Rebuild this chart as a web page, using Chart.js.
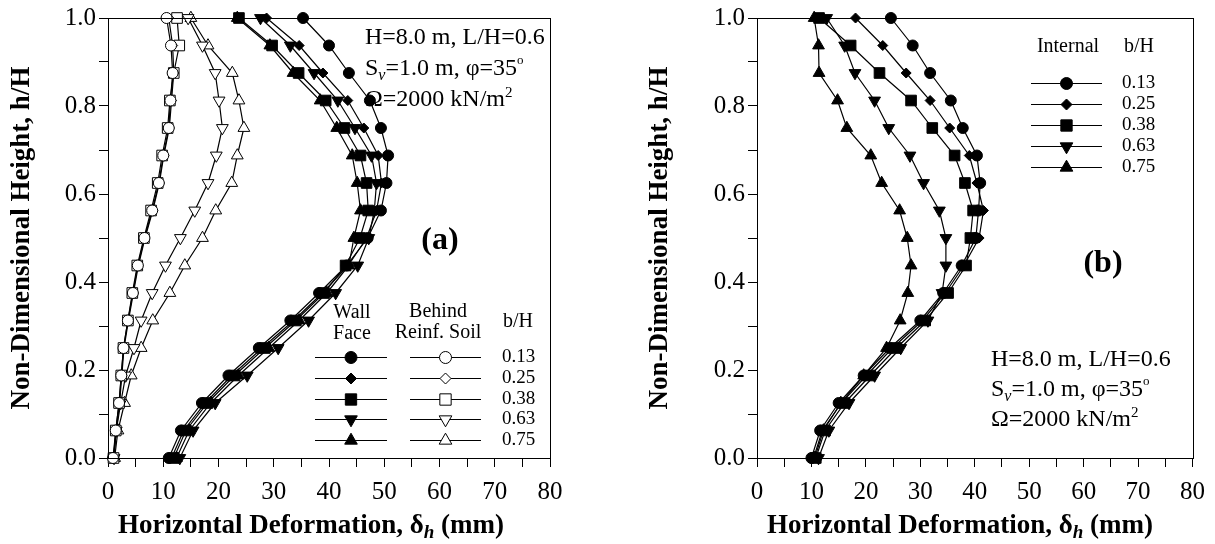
<!DOCTYPE html>
<html>
<head>
<meta charset="utf-8">
<script src="https://cdn.jsdelivr.net/npm/chart.js@4.4.1/dist/chart.umd.min.js"></script>
<style>
body{margin:0;background:#fff}
#wrap{position:relative;width:1215px;height:544px;overflow:hidden}
.box{position:absolute;top:0;height:544px}
</style>
</head>
<body>
<div id="wrap">
<div class="box" style="left:0;width:600px"><canvas id="chartA" width="600" height="544"></canvas></div>
<div class="box" style="left:600px;width:615px"><canvas id="chartB" width="615" height="544"></canvas></div>
</div>
<script>
// h/H levels, bottom to top
const hLevels = [0, 0.0625, 0.125, 0.1875, 0.25, 0.3125, 0.375, 0.4375, 0.5, 0.5625, 0.625, 0.6875, 0.75, 0.8125, 0.875, 0.9375, 1.0]
const bhLabels = ['0.13', '0.25', '0.38', '0.63', '0.75']

// (a) wall face, deformation in mm
const face013 = [11.0, 13.2, 17.0, 21.8, 27.3, 33.0, 38.2, 43.2, 47.0, 49.4, 50.4, 50.7, 49.4, 47.4, 43.6, 40.0, 35.3]
const face025 = [11.5, 13.7, 17.6, 22.4, 27.9, 33.6, 38.8, 43.5, 46.8, 48.6, 49.5, 48.9, 46.3, 43.4, 38.9, 34.6, 28.7]
const face038 = [11.9, 14.1, 18.0, 22.9, 28.4, 34.0, 39.1, 43.0, 45.6, 47.1, 46.8, 45.7, 42.8, 39.4, 34.5, 29.7, 23.7]
const face063 = [13.0, 15.4, 19.4, 25.2, 30.8, 36.3, 41.2, 45.2, 47.2, 48.2, 48.6, 47.7, 44.7, 41.6, 37.3, 33.0, 27.6]
const face075 = [12.4, 14.7, 18.6, 23.6, 29.1, 34.6, 39.6, 43.6, 44.5, 45.7, 45.1, 44.2, 41.4, 38.4, 33.5, 29.3, 23.4]

// (a) behind reinforced soil
const back013 = [0.9, 1.4, 2.0, 2.4, 2.8, 3.6, 4.5, 5.4, 6.6, 8.0, 9.2, 10.0, 11.0, 11.3, 11.7, 11.4, 10.6]
const back025 = [1.0, 1.5, 2.1, 2.5, 2.9, 3.7, 4.6, 5.5, 6.7, 8.1, 9.3, 10.1, 11.1, 11.5, 11.9, 11.7, 11.0]
const back038 = [1.0, 1.4, 2.0, 2.4, 2.8, 3.6, 4.4, 5.3, 6.5, 7.8, 9.0, 9.8, 10.8, 11.2, 11.9, 12.9, 12.5]
const back063 = [1.1, 1.5, 2.3, 3.2, 4.7, 6.0, 8.0, 10.4, 13.1, 15.7, 18.1, 19.6, 20.7, 20.1, 19.4, 17.1, 14.5]
const back075 = [1.2, 1.8, 3.0, 4.2, 6.0, 8.1, 11.2, 13.9, 17.1, 19.5, 22.4, 23.4, 24.6, 23.7, 22.5, 18.1, 15.0]

// (b) internal
const int013 = [10.0, 11.6, 15.0, 19.6, 24.4, 30.0, 34.2, 37.6, 40.2, 40.7, 41.0, 40.4, 37.8, 35.6, 31.8, 28.6, 24.6]
const int025 = [10.4, 12.0, 15.5, 20.1, 24.9, 30.4, 34.6, 38.0, 40.8, 41.6, 40.4, 39.0, 35.4, 31.8, 27.4, 23.1, 18.1]
const int038 = [10.8, 12.5, 16.1, 20.8, 25.6, 30.9, 35.1, 38.4, 39.2, 39.7, 38.2, 36.3, 32.2, 28.3, 22.5, 17.2, 11.4]
const int063 = [11.3, 13.2, 16.9, 21.6, 26.4, 31.4, 34.0, 34.7, 34.7, 33.5, 30.6, 28.1, 24.2, 21.6, 18.0, 16.1, 12.8]
const int075 = [10.6, 12.2, 15.4, 19.6, 23.8, 26.3, 27.7, 28.3, 27.6, 26.2, 22.9, 20.9, 16.5, 14.8, 11.4, 11.3, 10.5]

const serif = "'Liberation Serif', 'Times New Roman', serif"
function fnt(size, style){ return (style ? style + ' ' : '') + size + 'px ' + serif }

const markers = [
	{style:'circle', r:5.5, rot:0},
	{style:'rectRot', r:5, rot:0},
	{style:'rect', r:7.5, rot:0},
	{style:'triangle', r:6.8, rot:180},
	{style:'triangle', r:6.8, rot:0}
]

function pts(xs){ return xs.map((x, i) => ({x:x, y:hLevels[i]})) }

function ds(label, xs, i, filled){
	return {
		label: label,
		data: pts(xs),
		showLine: true,
		borderColor: '#000',
		borderWidth: 1.2,
		pointStyle: markers[i].style,
		pointRadius: markers[i].r,
		pointRotation: markers[i].rot,
		pointBackgroundColor: filled ? '#000' : '#fff',
		pointBorderColor: '#000',
		pointBorderWidth: 1,
		clip: false
	}
}

// draw text made of runs: [text, font, dy]
function drawRuns(ctx, x, y, runs, align){
	let total = 0
	runs.forEach(r => { ctx.font = r[1]; total += ctx.measureText(r[0]).width })
	let cx = align == 'center' ? x - total / 2 : (align == 'right' ? x - total : x)
	ctx.textAlign = 'left'
	ctx.textBaseline = 'alphabetic'
	runs.forEach(r => {
		ctx.font = r[1]
		ctx.fillText(r[0], cx, y + (r[2] || 0))
		cx += ctx.measureText(r[0]).width
	})
}

function legendRow(ctx, x0, x1, y, mk, filled){
	ctx.beginPath()
	ctx.moveTo(x0, y + 0.5)
	ctx.lineTo(x1, y + 0.5)
	ctx.lineWidth = 1
	ctx.strokeStyle = '#000'
	ctx.stroke()
	ctx.fillStyle = filled ? '#000' : '#fff'
	Chart.helpers.drawPoint(ctx, {pointStyle: mk.style, radius: mk.r + 0.5, rotation: mk.rot, borderWidth: 1}, (x0 + x1) / 2, y + 0.5)
}

function paramText(ctx, x, y0, gap){
	ctx.fillStyle = '#000'
	drawRuns(ctx, x, y0, [['H=8.0 m, L/H=0.6', fnt(24)]])
	drawRuns(ctx, x, y0 + gap, [['S', fnt(24)], ['v', fnt(16, 'italic'), 5], ['=1.0 m, \u03c6=35', fnt(24)], ['o', fnt(13), -11]])
	drawRuns(ctx, x, y0 + 2 * gap, [['\u03a9=2000 kN/m', fnt(24)], ['2', fnt(15), -9]])
}

function xTitle(ctx, area){
	ctx.fillStyle = '#000'
	drawRuns(ctx, area.left + 203, 533, [['Horizontal Deformation, \u03b4', fnt(27, 'bold')], ['h', fnt(19, 'bold italic'), 5], [' (mm)', fnt(27, 'bold')]], 'center')
}

function frame(ctx, a){
	ctx.save()
	ctx.strokeStyle = '#000'
	ctx.lineWidth = 1
	ctx.strokeRect(Math.round(a.left) + 0.5, Math.round(a.top) + 0.5, Math.round(a.right - a.left), Math.round(a.bottom - a.top))
	ctx.restore()
}

const extrasA = {
	id: 'extrasA',
	afterDraw(chart){
		const ctx = chart.ctx
		const a = chart.chartArea
		ctx.save()
		frame(ctx, a)
		xTitle(ctx, a)
		paramText(ctx, 365, 44, 31)
		ctx.fillStyle = '#000'
		ctx.font = fnt(32, 'bold')
		ctx.textAlign = 'center'
		ctx.textBaseline = 'middle'
		ctx.fillText('(a)', 440, 241)
		// legend
		ctx.font = fnt(20)
		ctx.fillText('Wall', 352, 313)
		ctx.fillText('Face', 352, 334)
		ctx.fillText('Behind', 438, 312)
		ctx.fillText('Reinf. Soil', 438, 333)
		ctx.fillText('b/H', 518, 322)
		const rows = [357, 378, 399, 419, 440]
		rows.forEach((y, i) => {
			legendRow(ctx, 315, 387, y, markers[i], true)
			legendRow(ctx, 410, 481, y, markers[i], false)
			ctx.fillStyle = '#000'
			ctx.font = fnt(19)
			ctx.textAlign = 'left'
			ctx.textBaseline = 'middle'
			ctx.fillText(bhLabels[i], 502, y)
		})
		ctx.restore()
	}
}

const extrasB = {
	id: 'extrasB',
	afterDraw(chart){
		const ctx = chart.ctx
		const a = chart.chartArea
		ctx.save()
		frame(ctx, a)
		xTitle(ctx, a)
		paramText(ctx, 391, 366, 30)
		ctx.fillStyle = '#000'
		ctx.font = fnt(32, 'bold')
		ctx.textAlign = 'center'
		ctx.textBaseline = 'middle'
		ctx.fillText('(b)', 503, 264)
		ctx.font = fnt(20)
		ctx.fillText('Internal', 468, 47)
		ctx.fillText('b/H', 539, 47)
		const rows = [83, 104, 125, 146, 167]
		rows.forEach((y, i) => {
			legendRow(ctx, 431, 502, y, markers[i], true)
			ctx.fillStyle = '#000'
			ctx.font = fnt(19)
			ctx.textAlign = 'left'
			ctx.textBaseline = 'middle'
			ctx.fillText(bhLabels[i], 522, y)
		})
		ctx.restore()
	}
}

function makeScales(yWidth, yTitlePad){
	return {
		x: {
			type: 'linear', min: 0, max: 80,
			afterFit: s => { s.height = 86 },
			ticks: {
				stepSize: 5, autoSkip: false, maxRotation: 0, padding: 10,
				color: '#000', font: {family: serif, size: 25},
				callback: v => (v % 10 == 0 ? v : '')
			},
			grid: {drawOnChartArea: false, color: '#000', tickLength: 9, tickColor: '#000'},
			border: {color: '#000', width: 1}
		},
		y: {
			type: 'linear', min: 0, max: 1,
			afterFit: s => { s.width = yWidth },
			ticks: {
				stepSize: 0.1, autoSkip: false, padding: 3,
				color: '#000', font: {family: serif, size: 25},
				callback: v => (Math.round(v * 10) % 2 == 0 ? v.toFixed(1) : '')
			},
			grid: {drawOnChartArea: false, color: '#000', tickLength: 9, tickColor: '#000'},
			border: {color: '#000', width: 1},
			title: {
				display: true, text: 'Non-Dimensional Height, h/H', color: '#000',
				font: {family: serif, size: 27, weight: 'bold'},
				padding: {top: yTitlePad, bottom: 0}
			}
		}
	}
}

const baseOpts = (yWidth, yTitlePad, right) => ({
	responsive: false,
	animation: false,
	layout: {padding: {left: 0, top: 15, right: right, bottom: 0}},
	plugins: {legend: {display: false}, tooltip: {enabled: false}},
	scales: makeScales(yWidth, yTitlePad)
})

new Chart(document.getElementById('chartA'), {
	type: 'scatter',
	data: {
		datasets: [
			ds('Behind 0.13', back013, 0, false),
			ds('Behind 0.25', back025, 1, false),
			ds('Behind 0.38', back038, 2, false),
			ds('Behind 0.63', back063, 3, false),
			ds('Behind 0.75', back075, 4, false),
			ds('Wall face 0.13', face013, 0, true),
			ds('Wall face 0.25', face025, 1, true),
			ds('Wall face 0.38', face038, 2, true),
			ds('Wall face 0.63', face063, 3, true),
			ds('Wall face 0.75', face075, 4, true)
		]
	},
	options: baseOpts(108, 6, 50),
	plugins: [extrasA]
})

new Chart(document.getElementById('chartB'), {
	type: 'scatter',
	data: {
		datasets: [
			ds('Internal 0.13', int013, 0, true),
			ds('Internal 0.25', int025, 1, true),
			ds('Internal 0.38', int038, 2, true),
			ds('Internal 0.63', int063, 3, true),
			ds('Internal 0.75', int075, 4, true)
		]
	},
	options: baseOpts(157, 44, 16),
	plugins: [extrasB]
})
</script>
</body>
</html>
